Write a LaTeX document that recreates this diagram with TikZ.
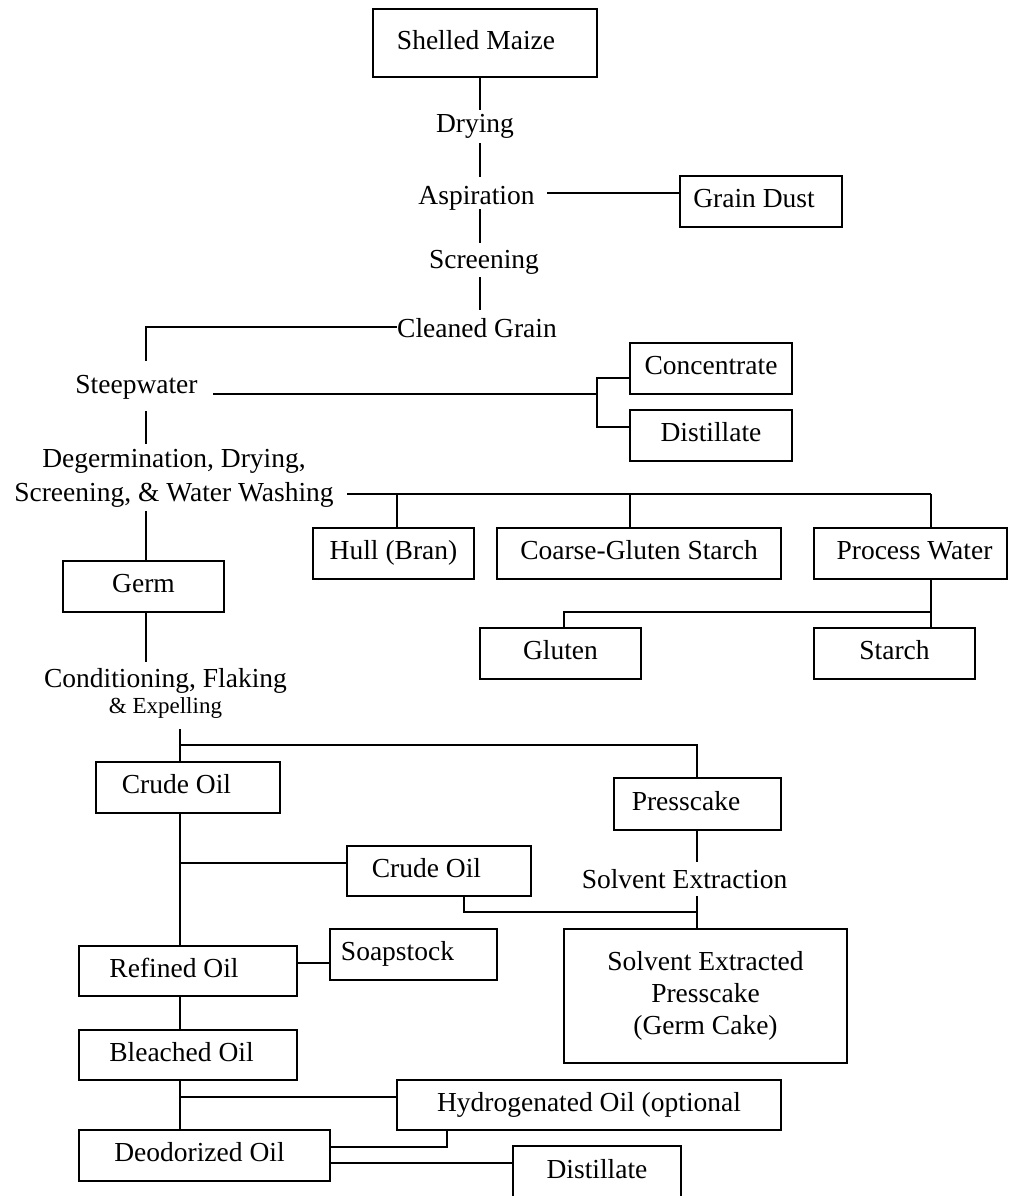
\documentclass[tikz,border=0pt]{standalone}
\usepackage{fontspec}
\setmainfont{Liberation Serif}
\newcommand\mainfs{\fontsize{27.5}{34}\selectfont}
\newcommand\smallfs{\fontsize{23}{26}\selectfont}
\begin{document}
\begin{tikzpicture}[x=1pt,y=-1pt,
  every node/.style={font=\mainfs},
  bx/.style={draw, line width=1.3pt, inner sep=0pt, text height=18.7pt, text depth=6pt},
  sz/.style 2 args={minimum width=#1pt, minimum height=#2pt},
  txt/.style={inner sep=0pt, anchor=base},
  link/.style={line width=1.3pt}]
\useasboundingbox (0,0) rectangle (1011,1196);
\clip (0,0) rectangle (1011,1196);
\fill[white] (0,0) rectangle (1011,1196);

% ---- boxes ----
\node[bx, sz={224}{68}] (maize) at (485,43) {Shelled Maize\kern18pt};
\node[bx, sz={162}{51}] (gdust) at (761,201.5) {Grain Dust\kern14pt};
\node[bx, sz={162}{51}] (conc) at (711,368.5) {Concentrate};
\node[bx, sz={162}{51}] (dist1) at (711,435.5) {Distillate};
\node[bx, sz={161}{51}] (hull) at (393.5,553.5) {Hull (Bran)};
\node[bx, sz={284}{51}] (coarse) at (639,553.5) {Coarse-Gluten Starch};
\node[bx, sz={193}{51}] (process) at (910.5,553.5) {\kern8pt Process Water};
\node[bx, sz={161}{51}] (gluten) at (560.5,653.5) {Gluten};
\node[bx, sz={161}{51}] (starch) at (894.5,653.5) {Starch};
\node[bx, sz={161}{51}] (germ) at (143.5,586.5) {Germ};
\node[bx, sz={184}{51}] (crude1) at (188,787.5) {Crude Oil\kern23pt};
\node[bx, sz={167}{52}] (press) at (697.5,804) {Presscake\kern23pt};
\node[bx, sz={184}{50}] (crude2) at (439,871) {Crude Oil\kern25pt};
\node[bx, sz={167}{51}] (soap) at (413.5,954.5) {Soapstock\kern32pt};
\node[bx, sz={218}{50}] (refined) at (188,971) {Refined Oil\kern28pt};
\node[draw, line width=1.3pt, inner sep=0pt, sz={283}{134}, align=center,
      font=\fontsize{27.5}{32}\selectfont] (sep) at (705.5,996)
      {Solvent Extracted\\Presscake\\(Germ Cake)};
\node[bx, sz={218}{50}] (bleached) at (188,1055) {Bleached Oil\kern13pt};
\node[bx, sz={384}{50}] (hydro) at (589,1105) {Hydrogenated Oil (optional};
\node[bx, sz={251}{51}] (deod) at (204.5,1155.5) {Deodorized Oil\kern10pt};
\node[bx, sz={168}{53}] (dist2) at (597,1172.5) {Distillate};

% ---- free texts ----
\node[txt] (drying) at (475,132) {Drying};
\node[txt] (aspir) at (476.5,204) {Aspiration};
\node[txt] (screen) at (484,268) {Screening};
\node[txt] (clean) at (477,337) {Cleaned Grain};
\node[txt] (steep) at (136.5,393) {Steepwater};
\node[inner sep=0pt, align=center] (degerm) at (174,478.7)
      {Degermination, Drying,\\Screening, \& Water Washing};
\node[inner sep=0pt, align=center] (cond) at (165.5,693.6)
      {Conditioning, Flaking\\[-8pt]{\smallfs \& Expelling}};
\node[txt] (solv) at (684.5,888) {Solvent Extraction};

% ---- junction coordinates ----
\coordinate (a1) at (480,110); \coordinate (a2) at (480,143);
\coordinate (a3) at (480,177); \coordinate (a4) at (480,209);
\coordinate (a5) at (480,243); \coordinate (a6) at (480,277);
\coordinate (a7) at (480,310);
\coordinate (g1) at (547,193);
\coordinate (c1) at (397,327); \coordinate (c2) at (146,361);
\coordinate (s1) at (213,394); \coordinate (s2) at (597,394);
\coordinate (s3) at (597,378); \coordinate (s4) at (597,427);
\coordinate (s5) at (146,411); \coordinate (s6) at (146,444);
\coordinate (d1) at (347,494); \coordinate (d2) at (931,494);
\coordinate (h1) at (397,494); \coordinate (k1) at (630,494);
\coordinate (d3) at (146,511); \coordinate (e1) at (146,662);
\coordinate (pw) at (931,612); \coordinate (gx) at (564,628);
\coordinate (f1) at (180,729); \coordinate (f2) at (180,745);
\coordinate (f4) at (180,863); \coordinate (f5) at (297,963);
\coordinate (f6) at (180,1097); \coordinate (f7) at (447,1147);
\coordinate (f8) at (330,1163);
\coordinate (p1) at (697,862); \coordinate (p2) at (697,896);
\coordinate (p3) at (464,912);

% ---- connectors ----
\draw[link] (maize.south -| a1) -- (a1);
\draw[link] (a2) -- (a3);
\draw[link] (a4) -- (a5);
\draw[link] (a6) -- (a7);
\draw[link] (g1) -- (g1 -| gdust.west);
\draw[link] (c1) -| (c2);
\draw[link] (s1) -- (s2);
\draw[link] (conc.west |- s3) -| (s4) -- (s4 -| dist1.west);
\draw[link] (s5) -- (s6);
\draw[link] (d1) -- (d2);
\draw[link] (h1) -- (h1 |- hull.north);
\draw[link] (k1) -- (k1 |- coarse.north);
\draw[link] (d2) -- (d2 |- process.north);
\draw[link] (d3) -- (d3 |- germ.north);
\draw[link] (d3 |- germ.south) -- (e1);
\draw[link] (d2 |- process.south) -- (d2 |- starch.north);
\draw[link] (pw) -| (gx);
\draw[link] (f1) -- (f1 |- crude1.north);
\draw[link] (f2) -| (p1 |- press.north);
\draw[link] (f1 |- crude1.south) -- (f1 |- refined.north);
\draw[link] (f4) -- (f4 -| crude2.west);
\draw[link] (f5) -- (f5 -| soap.west);
\draw[link] (f1 |- refined.south) -- (f1 |- bleached.north);
\draw[link] (f1 |- bleached.south) -- (f1 |- deod.north);
\draw[link] (f6) -- (f6 -| hydro.west);
\draw[link] (f7 |- hydro.south) -- (f7) -- (f7 -| deod.east);
\draw[link] (f8) -- (f8 -| dist2.west);
\draw[link] (p1 |- press.south) -- (p1);
\draw[link] (p2) -- (p2 |- sep.north);
\draw[link] (p3 |- crude2.south) -- (p3) -- (p3 -| p2);
\end{tikzpicture}
\end{document}
